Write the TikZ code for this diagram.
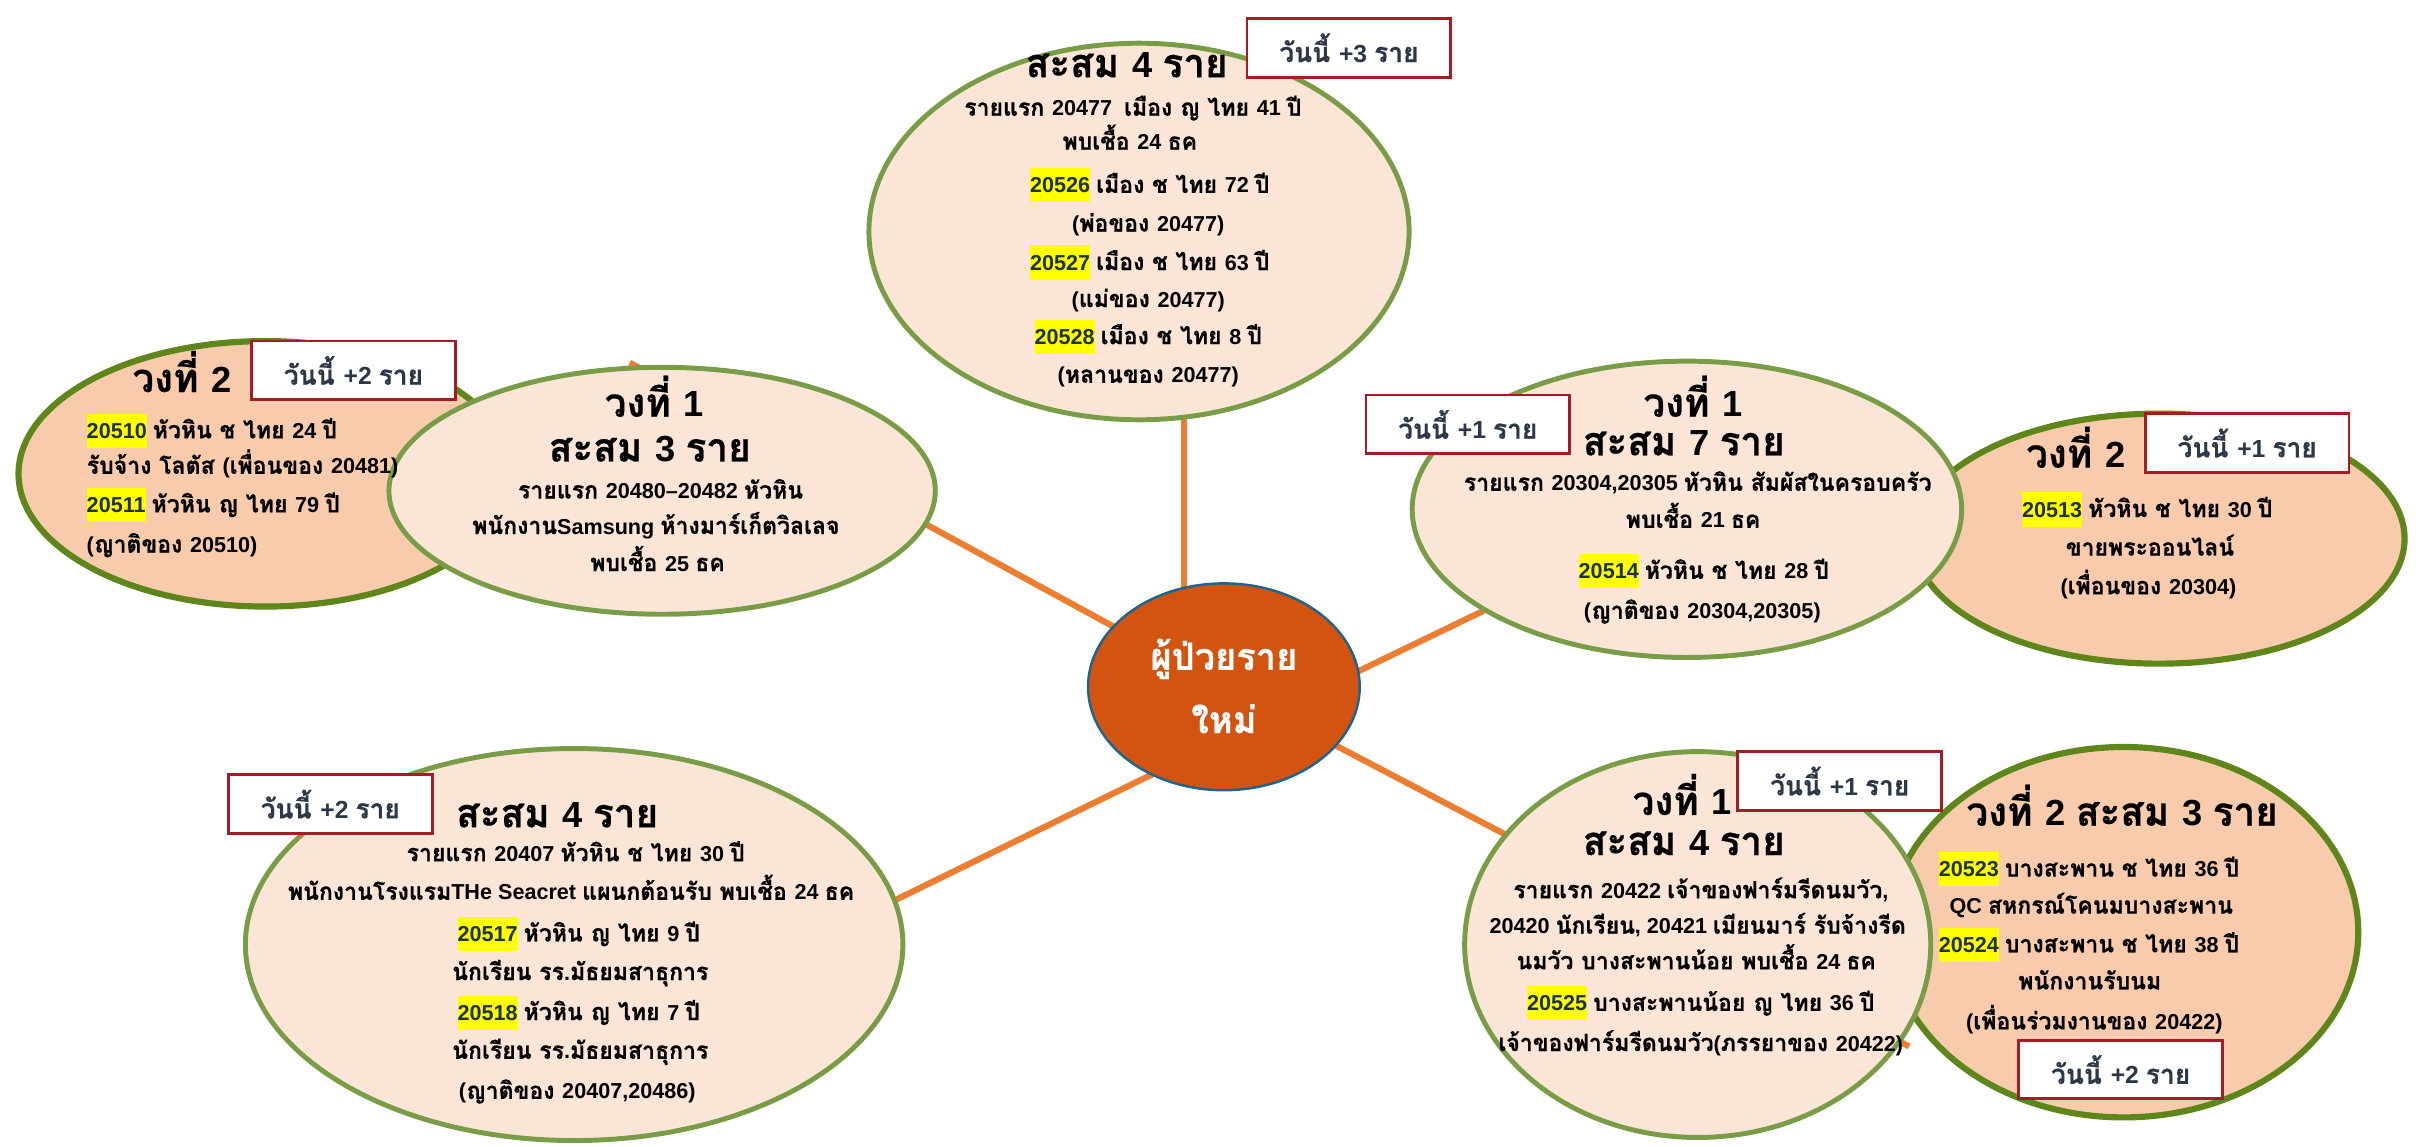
\documentclass[tikz,border=0pt]{standalone}
\usepackage{fontspec}
\setmainfont{Liberation Sans}
\newfontfamily\thaiF{Loma}[Script=Thai, Scale=1.1, FakeStretch=0.97, BoldFeatures={FakeBold=0.5}]
\XeTeXinterchartokenstate=1
\newXeTeXintercharclass\ThaiCls
\newXeTeXintercharclass\LatCls
\newcount\tmpc
\tmpc="0E00
\loop \XeTeXcharclass\tmpc=\ThaiCls \ifnum\tmpc<"0E7F \advance\tmpc by 1 \repeat
\tmpc="21
\loop \XeTeXcharclass\tmpc=\LatCls \ifnum\tmpc<"7E \advance\tmpc by 1 \repeat
\XeTeXcharclass"2013=\LatCls
\XeTeXinterchartoks 4095 \ThaiCls={\thaiF}
\XeTeXinterchartoks \LatCls \ThaiCls={\thaiF}
\XeTeXinterchartoks 4095 \LatCls={\rmfamily}
\XeTeXinterchartoks \ThaiCls \LatCls={\rmfamily}
\usetikzlibrary{shapes.geometric}
\pgfdeclarelayer{background}
\pgfsetlayers{background,main}
\definecolor{conn}{RGB}{237,125,49}
\definecolor{innerf}{RGB}{251,229,214}
\definecolor{innerb}{RGB}{120,157,70}
\definecolor{outerf}{RGB}{248,203,173}
\definecolor{outerb}{RGB}{94,134,26}
\definecolor{boxb}{RGB}{165,28,36}
\definecolor{boxt}{RGB}{44,56,70}
\definecolor{centf}{RGB}{210,84,16}
\definecolor{centb}{RGB}{30,100,140}
\definecolor{hly}{RGB}{255,255,0}
\definecolor{numc}{RGB}{30,50,70}
\newcommand\hlnum[1]{{\setlength{\fboxsep}{0pt}\colorbox{hly}{\rule[-0.44em]{0pt}{1.58em}\textcolor{numc}{#1}}}}
\begin{document}
\begin{tikzpicture}[x=1pt,y=-1pt,
  innerell/.style={ellipse, draw=innerb, fill=innerf, line width=3.2pt, inner sep=0pt},
  outerell/.style={ellipse, draw=outerb, fill=outerf, line width=4pt, inner sep=0pt},
  ttl/.style={font=\fontsize{23.5}{26}\selectfont\bfseries, inner sep=0pt, anchor=base},
  body/.style={font=\fontsize{14}{16}\selectfont\bfseries, inner sep=0pt, anchor=base},
  bodyw/.style={body, anchor=base west},
  today/.style={draw=boxb, fill=white, line width=1.8pt, minimum width=132pt, minimum height=38pt, inner sep=0pt, font=\fontsize{16}{18}\selectfont\bfseries, text=boxt},
  ctext/.style={font=\fontsize{22}{24}\selectfont\bfseries, text=white, anchor=base, inner sep=0pt},
  link/.style={draw=conn, line width=4pt}]
\useasboundingbox (0,0) rectangle (1568,743);
% ellipses
\node[outerell, minimum width=320, minimum height=172] (E2) at (172,307) {};
\node[innerell, minimum width=354, minimum height=160] (E3) at (429,318) {};
\node[innerell, minimum width=350, minimum height=244] (E1) at (738,150) {};
\node[outerell, minimum width=318, minimum height=162] (E5) at (1399,349) {};
\node[innerell, minimum width=356, minimum height=192] (E4) at (1093,330) {};
\node[innerell, minimum width=426, minimum height=254] (E6) at (372,612) {};
\node[outerell, minimum width=304, minimum height=240] (E8) at (1376,604) {};
\node[innerell, minimum width=302, minimum height=250] (E7) at (1100,612) {};
\node[ellipse, draw=centb, fill=centf, line width=1.6pt, minimum width=176, minimum height=134, inner sep=0pt] (C) at (793,445) {};
% connector ends
\coordinate (cT) at (767,445);
\coordinate (cR) at (793,477);
\coordinate (cL) at (793,479);
\coordinate (eT) at (767,250);
\coordinate (eUL) at (408,235);
\coordinate (eUR) at (1000,377);
\coordinate (eLR) at (1237,678);
\coordinate (eLL) at (560,593);
\begin{pgfonlayer}{background}
\draw[link] (cT) -- (eT);
\draw[link] (C.center) -- (eUL);
\draw[link] (cR) -- (eUR);
\draw[link] (C.center) -- (eLR);
\draw[link] (cL) -- (eLL);
\end{pgfonlayer}
% center text
\node[ctext] (c1) at (793,434) {ผู้ป่วยราย};
\node[ctext] (c2) at (793,475) {ใหม่};
% E1
\node[ttl] (a0) at (730,50) {สะสม 4 ราย};
\node[body] (a1) at (734,75) {รายแรก 20477~~เมือง ญ ไทย 41 ปี};
\node[body] (a2) at (732,97) {พบเชื้อ 24 ธค};
\node[body] (a3) at (745,125) {\hlnum{20526} เมือง ช ไทย 72 ปี};
\node[body] (a4) at (744,150) {(พ่อของ 20477)};
\node[body] (a5) at (745,175) {\hlnum{20527} เมือง ช ไทย 63 ปี};
\node[body] (a6) at (744,199) {(แม่ของ 20477)};
\node[body] (a7) at (744,223) {\hlnum{20528} เมือง ช ไทย 8 ปี};
\node[body] (a8) at (744,248) {(หลานของ 20477)};
% E2
\node[ttl] (b0) at (118,254) {วงที่ 2};
\node[bodyw] (b1) at (56,284) {\hlnum{20510} หัวหิน ช ไทย 24 ปี};
\node[bodyw] (b2) at (56,307) {รับจ้าง โลตัส (เพื่อนของ 20481)};
\node[bodyw] (b3) at (56,332) {\hlnum{20511} หัวหิน ญ ไทย 79 ปี};
\node[bodyw] (b4) at (56,358) {(ญาติของ 20510)};
% E3
\node[ttl] (d0) at (424,270) {วงที่ 1};
\node[ttl] (d1) at (421,299) {สะสม 3 ราย};
\node[body] (d2) at (428,323) {รายแรก 20480–20482 หัวหิน};
\node[body] (d3) at (425,346) {พนักงานSamsung ห้างมาร์เก็ตวิลเลจ};
\node[body] (d4) at (426,370) {พบเชื้อ 25 ธค};
% E4
\node[ttl, text depth=0.02em] (f0) at (1097,270) {วงที่ 1};
\node[ttl, text height=0.72em] (f1) at (1091,295) {สะสม 7 ราย};
\node[body] (f2) at (1100,318) {รายแรก 20304,20305 หัวหิน สัมผัสในครอบครัว};
\node[body] (f3) at (1097,342) {พบเชื้อ 21 ธค};
\node[body] (f4) at (1104,375) {\hlnum{20514} หัวหิน ช ไทย 28 ปี};
\node[body] (f5) at (1103,401) {(ญาติของ 20304,20305)};
% E5
\node[ttl] (g0) at (1345,303) {วงที่ 2};
\node[bodyw] (g1) at (1310,335) {\hlnum{20513} หัวหิน ช ไทย 30 ปี};
\node[body] (g2) at (1393,360) {ขายพระออนไลน์};
\node[body] (g3) at (1392,385) {(เพื่อนของ 20304)};
% E6
\node[ttl] (h0) at (361,536) {สะสม 4 ราย};
\node[body] (h1) at (373,558) {รายแรก 20407 หัวหิน ช ไทย 30 ปี};
\node[body] (h2) at (370,583) {พนักงานโรงแรมTHe Seacret แผนกต้อนรับ พบเชื้อ 24 ธค};
\node[body] (h3) at (375,610) {\hlnum{20517} หัวหิน ญ ไทย 9 ปี};
\node[body] (h4) at (376,635) {นักเรียน รร.มัธยมสาธุการ};
\node[body] (h5) at (375,661) {\hlnum{20518} หัวหิน ญ ไทย 7 ปี};
\node[body] (h6) at (376,686) {นักเรียน รร.มัธยมสาธุการ};
\node[body] (h7) at (374,712) {(ญาติของ 20407,20486)};
% E7
\node[ttl] (k0) at (1090,528) {วงที่ 1};
\node[ttl] (k1) at (1091,554) {สะสม 4 ราย};
\node[body] (k2) at (1102,582) {รายแรก 20422 เจ้าของฟาร์มรีดนมวัว,};
\node[body] (k3) at (1100,605) {20420 นักเรียน, 20421 เมียนมาร์ รับจ้างรีด};
\node[body] (k4) at (1099,628) {นมวัว บางสะพานน้อย พบเชื้อ 24 ธค};
\node[body] (k5) at (1102,655) {\hlnum{20525} บางสะพานน้อย ญ ไทย 36 ปี};
\node[body] (k6) at (1102,681) {เจ้าของฟาร์มรีดนมวัว(ภรรยาของ 20422)};
% E8
\node[ttl] (m0) at (1375,535) {วงที่ 2 สะสม 3 ราย};
\node[bodyw] (m1) at (1256,568) {\hlnum{20523} บางสะพาน ช ไทย 36 ปี};
\node[body] (m2) at (1355,592) {QC สหกรณ์โคนมบางสะพาน};
\node[bodyw] (m3) at (1256,617) {\hlnum{20524} บางสะพาน ช ไทย 38 ปี};
\node[body] (m4) at (1354,641) {พนักงานรับนม};
\node[body] (m5) at (1357,667) {(เพื่อนร่วมงานของ 20422)};
% today boxes
\node[today] (T1) at (874,31) {วันนี้ +3 ราย};
\node[today] (T2) at (229,240) {วันนี้ +2 ราย};
\node[today] (T4) at (951,275) {วันนี้ +1 ราย};
\node[today] (T5) at (1456,287) {วันนี้ +1 ราย};
\node[today] (T6) at (214,521) {วันนี้ +2 ราย};
\node[today] (T7) at (1192,506) {วันนี้ +1 ราย};
\node[today] (T8) at (1374,693) {วันนี้ +2 ราย};
\end{tikzpicture}
\end{document}
